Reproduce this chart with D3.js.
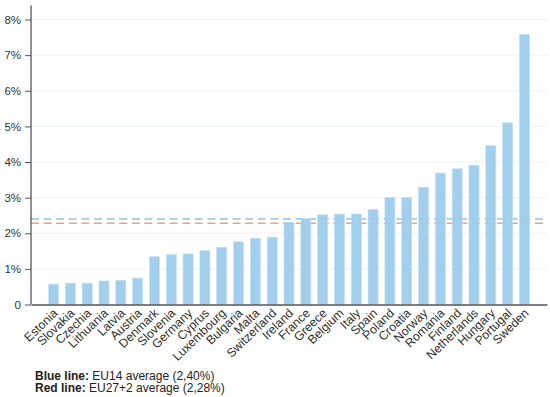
<!DOCTYPE html>
<html>
<head>
<meta charset="utf-8">
<script src="https://cdn.jsdelivr.net/npm/d3@7"></script>
<style>
    body { margin: 0; background: #fff; }
    svg { display: block; }
</style>
</head>
<body>
<div id="bar-graph"></div>
<script>
const countries = ["Estonia", "Slovakia", "Czechia", "Lithuania", "Latvia", "Austria", "Denmark",
    "Slovenia", "Germany", "Cyprus", "Luxembourg", "Bulgaria", "Malta", "Switzerland", "Ireland",
    "France", "Greece", "Belgium", "Italy", "Spain", "Poland", "Croatia", "Norway", "Romania",
    "Finland", "Netherlands", "Hungary", "Portugal", "Sweden"];
const values = [0.57, 0.60, 0.60, 0.66, 0.68, 0.74, 1.34, 1.40, 1.42, 1.51, 1.61, 1.76, 1.86, 1.89,
    2.31, 2.42, 2.52, 2.54, 2.54, 2.67, 3.00, 3.00, 3.29, 3.69, 3.81, 3.91, 4.46, 5.10, 7.58];
const yTicks = [0, 1, 2, 3, 4, 5, 6, 7, 8];
const eu14Avg = 2.40;
const eu29Avg = 2.28;

const width = 550;
const height = 397;
const margin = { top: 19.5, right: 3, bottom: 92.5, left: 31 };
const graphW = width - margin.left - margin.right;
const graphH = height - margin.top - margin.bottom;
const font = "'Liberation Sans', Arial, sans-serif";

let svg = d3.select("#bar-graph").append("svg")
    .attr("width", width)
    .attr("height", height);

let group = svg.append("g")
    .attr("transform", `translate(${margin.left}, ${margin.top})`);

// x axis setup
const x = d3.scaleBand()
    .domain(countries)
    .range([0, graphW])
    .paddingInner(0.4)
    .paddingOuter(1.04);

// y axis setup
const y = d3.scaleLinear()
    .domain([0, 8])
    .range([graphH, 0]);

// gridlines
group.append("g")
    .selectAll("line")
    .data(yTicks.slice(1))
    .enter()
    .append("line")
    .attr("x1", 0)
    .attr("x2", graphW)
    .attr("y1", d => y(d))
    .attr("y2", d => y(d))
    .style("stroke", "#eaf3f3")
    .style("stroke-width", 1);

// average lines (behind bars)
function drawAvgLine(val, colour) {
    group.append("line")
        .attr("x1", 0)
        .attr("x2", graphW)
        .attr("y1", y(val))
        .attr("y2", y(val))
        .style("stroke", colour)
        .style("stroke-width", 1.6)
        .style("stroke-dasharray", "8,4.6");
}
drawAvgLine(eu14Avg, "#8cc4e4");
drawAvgLine(eu29Avg, "#f4a07c");

// bars
group.append("g")
    .selectAll("rect")
    .data(countries)
    .enter()
    .append("rect")
    .attr("x", d => x(d))
    .attr("y", (d, i) => y(values[i]))
    .attr("width", x.bandwidth())
    .attr("height", (d, i) => graphH - y(values[i]))
    .attr("fill", "#9ccbec")
    .attr("fill-opacity", 0.93)
    .attr("stroke", "#c4e0f5")
    .attr("stroke-width", 0.6);

// y axis
const yAxis = group.append("g")
    .style("font-family", font)
    .style("font-size", "11.5px")
    .call(d3.axisLeft(y)
        .tickValues(yTicks)
        .tickSize(6)
        .tickPadding(4)
        .tickFormat(d => d === 0 ? "0" : d + "%"));
yAxis.select(".domain").attr("d", `M0,${graphH}V${-14}`).style("stroke", "#555").style("stroke-width", 1.3);
yAxis.selectAll(".tick line").style("stroke", "#555");
yAxis.selectAll(".tick text").style("fill", "#333");

// x axis
const xAxis = group.append("g")
    .attr("transform", `translate(0, ${graphH})`)
    .style("font-family", font)
    .style("font-size", "12.3px")
    .call(d3.axisBottom(x).tickSize(0).tickPadding(0));
xAxis.select(".domain").style("stroke", "#555").style("stroke-width", 1.5);
xAxis.selectAll(".tick text")
    .attr("text-anchor", "end")
    .attr("dy", "0")
    .attr("transform", "translate(5, 9.5) rotate(-44)")
    .style("fill", "#333");

// footnote
const note = svg.append("g")
    .style("font-family", font)
    .style("font-size", "12px")
    .style("fill", "#222");
const n1 = note.append("text").attr("x", 35).attr("y", 379.5);
n1.append("tspan").attr("font-weight", 700).text("Blue line:");
n1.append("tspan").text(` EU14 average (${String(eu14Avg.toFixed(2)).replace(".", ",")}%)`);
const n2 = note.append("text").attr("x", 35).attr("y", 391.5);
n2.append("tspan").attr("font-weight", 700).text("Red line:");
n2.append("tspan").text(` EU27+2 average (${String(eu29Avg.toFixed(2)).replace(".", ",")}%)`);
</script>
</body>
</html>
